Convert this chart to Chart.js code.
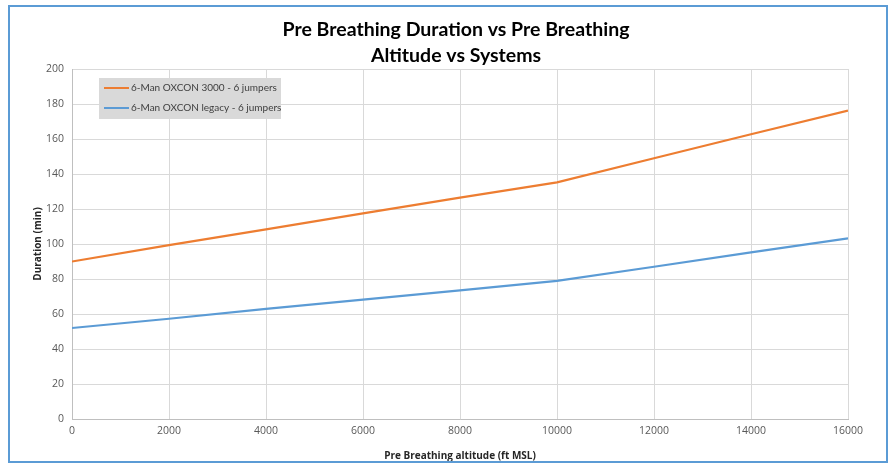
<!DOCTYPE html>
<html>
<head>
<meta charset="utf-8">
<script src="https://cdn.jsdelivr.net/npm/chart.js@4/dist/chart.umd.min.js"></script>
<style>
  html, body { margin: 0; padding: 0; background: #fff; }
  #wrap { position: relative; width: 895px; height: 466px; }
  #frame { position: absolute; left: 8px; top: 5px; width: 876px; height: 454px; border: 2px solid #5b9bd5; pointer-events: none; }
</style>
</head>
<body>
<div id="wrap">
  <canvas id="chart" width="895" height="466"></canvas>
  <div id="frame"></div>
</div>
<script>
/* ============= Data: ============= */
var altitudes = [0, 2000, 4000, 6000, 8000, 10000, 12000, 14000, 16000];
var oxcon3000 = [90, 99.4, 108.4, 117.5, 126.5, 135.2, 149, 162.7, 176.2];
var oxconLegacy = [52, 57.3, 62.9, 68.2, 73.5, 78.9, 87, 95.2, 103.2];
var seriesNames = ['6-Man OXCON 3000 - 6 jumpers', '6-Man OXCON legacy - 6 jumpers'];
var seriesColors = ['#ed7d31', '#5b9bd5'];
var titleLines = ['Pre Breathing Duration vs Pre Breathing', 'Altitude vs Systems'];

function toPoints(xs, ys) {
  var pts = [];
  for (var i = 0; i < xs.length; i++) {
    pts.push({ x: xs[i], y: ys[i] });
  }
  return pts;
}

// title drawn by hand so the chart area top can be fixed
var titlePlugin = {
  id: 'titleLines',
  afterDraw: function (chart) {
    var ctx = chart.ctx;
    ctx.save();
    ctx.fillStyle = '#000';
    ctx.font = 'bold 19.5px Lato';
    ctx.textAlign = 'center';
    ctx.textBaseline = 'middle';
    ctx.fillText(titleLines[0], 456, 30);
    ctx.fillText(titleLines[1], 456, 56);
    ctx.restore();
  }
};

// legend box sits inside the plot, grey fill
var legendBox = {
  id: 'legendBox',
  afterDatasetsDraw: function (chart) {
    var ctx = chart.ctx;
    ctx.save();
    ctx.fillStyle = '#d9d9d9';
    ctx.fillRect(99, 78, 182, 41);
    ctx.font = '10px Lato';
    ctx.textBaseline = 'middle';
    chart.data.datasets.forEach(function (ds, i) {
      var y = 88 + i * 20;
      ctx.strokeStyle = ds.borderColor;
      ctx.lineWidth = 2;
      ctx.beginPath();
      ctx.moveTo(104, y);
      ctx.lineTo(129, y);
      ctx.stroke();
      ctx.fillStyle = '#404040';
      ctx.fillText(ds.label, 131, y);
    });
    ctx.restore();
  }
};

var ctx = document.getElementById('chart').getContext('2d');
var myChart = new Chart(ctx, {
  type: 'line',
  data: {
    datasets: [
      {
        label: seriesNames[0],
        data: toPoints(altitudes, oxcon3000),
        borderColor: seriesColors[0],
        borderWidth: 2.2,
        pointRadius: 0,
        tension: 0
      },
      {
        label: seriesNames[1],
        data: toPoints(altitudes, oxconLegacy),
        borderColor: seriesColors[1],
        borderWidth: 2.2,
        pointRadius: 0,
        tension: 0
      }
    ]
  },
  options: {
    responsive: false,
    animation: false,
    layout: { padding: { left: 28, right: 47, top: 69, bottom: 0 } },
    plugins: {
      legend: { display: false },
      title: { display: false },
      tooltip: { enabled: false }
    },
    scales: {
      x: {
        type: 'linear',
        min: 0,
        max: 16000,
        ticks: {
          stepSize: 2000, color: '#595959', font: { family: 'Open Sans', size: 10.5 }, padding: 6, maxRotation: 0,
          callback: function (value) { return String(value); }
        },
        grid: { color: '#d9d9d9', drawTicks: false },
        border: { color: '#bfbfbf' },
        title: { display: true, text: 'Pre Breathing altitude (ft MSL)', color: '#262626', font: { family: 'Open Sans', size: 10, weight: 'bold' }, padding: { top: 4 } },
        afterFit: function (scale) { scale.height = 47; }
      },
      y: {
        min: 0,
        max: 200,
        ticks: { stepSize: 20, color: '#595959', font: { family: 'Open Sans', size: 10.5 }, padding: 8 },
        grid: { color: '#d9d9d9', drawTicks: false },
        border: { color: '#bfbfbf' },
        title: { display: true, text: 'Duration (min)', color: '#262626', font: { family: 'Open Sans', size: 10, weight: 'bold' }, padding: { bottom: 4 } },
        afterFit: function (scale) { scale.width = 44; }
      }
    }
  },
  plugins: [titlePlugin, legendBox]
});
</script>
</body>
</html>
